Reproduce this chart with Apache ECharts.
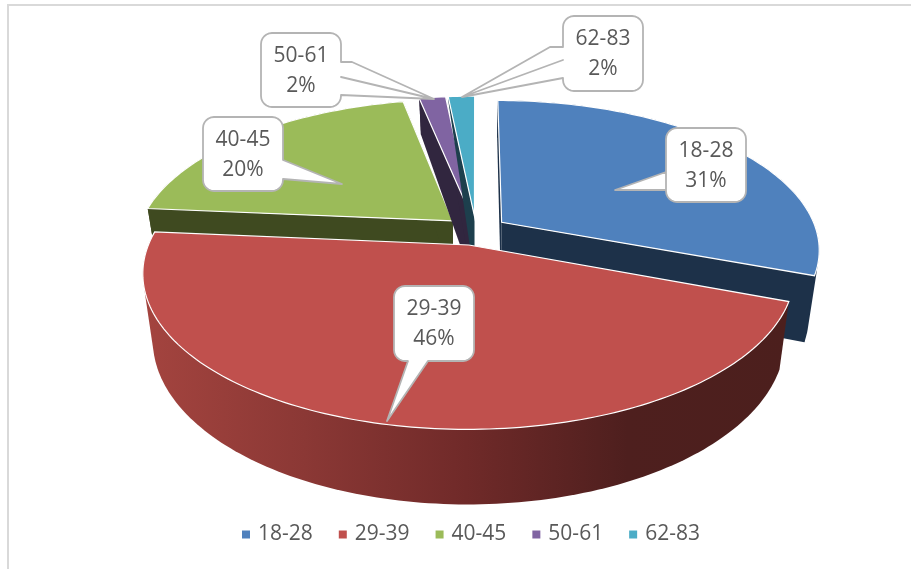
<!DOCTYPE html>
<html><head><meta charset="utf-8">
<style>html,body{margin:0;padding:0;background:#fff}#c{width:911px;height:569px}</style>
<script src="https://cdn.jsdelivr.net/npm/echarts@6/dist/echarts.min.js"></script>
</head><body><div id="c"></div>
<script>
var categories = ['18-28','29-39','40-45','50-61','62-83'];
var percents = [31,46,20,2,2];
var shares = [30.7,45.7,20.4,1.6,1.6];
var topColors = ['#4f81bd','#c0504d','#9bbb59','#8064a2','#4bacc6'];
var wallColors = ['#1d3149','#7a2e2c','#3f4a20','#31263f','#1d3f4d'];
var redWallStops = [[0,'#a4443f'],[0.25,'#8b3835'],[0.5,'#702a29'],[0.75,'#4e1f1e'],[1,'#4c1f1d']];
var sliceOrder = [0,2,3,4,1];
var faceRim = [1,1,1,1,0.12];
var calloutBoxes = [
 {x:666,y:128,w:80,h:74,edge:[[666,172],[615,190],[666,190]]},
 {x:394,y:286,w:80,h:75,edge:[[428,361],[387,421],[408,361]]},
 {x:203,y:117,w:80,h:74,edge:[[283,160],[342,184],[283,179]]},
 {x:261,y:33,w:80,h:74,edge:[[341,62],[352,62],[434,99],[341,77],[434,99],[341,95]]},
 {x:563,y:16,w:80,h:75,edge:[[563,78],[462,97],[563,60],[462,97],[550,47],[563,47]]}
];
var pie = {cx:476,cy:230.5,rx:315,ry:146,persp:0.177,explode:0.1,depth:64,shrink:0.97};
var total = shares.reduce(function(a,b){return a+b;},0);
function sliceAngles(i){
  var a=0; for(var k=0;k<i;k++) a+=shares[k];
  return [a/total*Math.PI*2,(a+shares[i])/total*Math.PI*2];
}
function project(th,r,ox,ov,bottom){
  var u=ox+r*Math.sin(th), v=ov-r*Math.cos(th), s=1/(1-pie.persp*v), k=bottom?pie.shrink:1;
  var d=pie.depth*s*(v<0?1+0.3*v:1-0.05*v);
  return [pie.cx+pie.rx*u*s*k, pie.cy+pie.ry*v*s+(bottom?d:0)];
}
function arcPoints(a0,a1,ox,ov,bottom){
  var pts=[],n=Math.max(4,Math.ceil((a1-a0)/0.02));
  for(var j=0;j<=n;j++) pts.push(project(a0+(a1-a0)*j/n,1,ox,ov,bottom));
  return pts;
}
function hull(points){
  var p=points.slice().sort(function(a,b){return a[0]-b[0]||a[1]-b[1];});
  function cross(o,a,b){return (a[0]-o[0])*(b[1]-o[1])-(a[1]-o[1])*(b[0]-o[0]);}
  function half(list){
    var h=[];
    list.forEach(function(q){
      while(h.length>=2&&cross(h[h.length-2],h[h.length-1],q)<=0) h.pop();
      h.push(q);
    });
    h.pop();
    return h;
  }
  return half(p).concat(half(p.slice().reverse()));
}
function renderSlice(i){
  var an=sliceAngles(i),a0=an[0],a1=an[1],mid=(a0+a1)/2;
  var ox=pie.explode*Math.sin(mid),ov=-pie.explode*Math.cos(mid);
  var top=arcPoints(a0,a1,ox,ov,false),bot=arcPoints(a0,a1,ox,ov,true);
  var apexT=project(0,0,ox,ov,false),apexB=project(0,0,ox,ov,true);
  var faces=[];
  function poly(points,fill,stroke){
    var st={fill:fill,lineWidth:stroke?1.2:0};
    if(stroke) st.stroke=stroke;
    faces.push({type:'polygon',shape:{points:points},style:st});
  }
  var rim=faceRim[i];
  var wallFill=wallColors[i];
  if(i===1){
    wallFill={type:'linear',x:0,y:0,x2:1,y2:0,
      colorStops:redWallStops.map(function(s){return {offset:s[0],color:s[1]};})};
  }
  if(rim===1) poly(hull(top.concat(bot)),wallFill);
  var rimBottom=[top[0][0]+(bot[0][0]-top[0][0])*rim,top[0][1]+(bot[0][1]-top[0][1])*rim];
  if(i!==1){
    poly([apexT,top[0],rimBottom,apexB],wallColors[i]);
    poly([apexT,top[top.length-1],bot[bot.length-1],apexB],wallColors[i]);
  }
  poly([apexT].concat(top),topColors[i],'#ffffff');
  return {type:'group',children:faces};
}
function roundBox(b,edge){
  var r=11,pts=[];
  function corner(cx,cy,s){for(var j=0;j<=6;j++){var t=s+j/6*Math.PI/2;pts.push([cx+r*Math.cos(t),cy+r*Math.sin(t)]);}}
  var onRight=edge[0][0]===b.x+b.w,onBottom=edge[0][1]===b.y+b.h,onLeft=edge[0][0]===b.x;
  corner(b.x+r,b.y+r,Math.PI);
  corner(b.x+b.w-r,b.y+r,-Math.PI/2);
  if(onRight&&!onBottom) pts=pts.concat(edge);
  corner(b.x+b.w-r,b.y+b.h-r,0);
  if(onBottom) pts=pts.concat(edge);
  corner(b.x+r,b.y+b.h-r,Math.PI/2);
  if(onLeft&&!onBottom) pts=pts.concat(edge);
  return pts;
}
function renderLabel(i){
  var b=calloutBoxes[i];
  return {type:'group',children:[
    {type:'polygon',shape:{points:roundBox(b,b.edge)},style:{fill:'#fff',stroke:'#b4b4b4',lineWidth:1.8,lineJoin:'round'}},
    {type:'text',style:{x:b.x+b.w/2,y:b.y+b.h/2+1,text:categories[i]+'\n'+percents[i]+'%',
      fill:'#595959',font:'21px "Open Sans"',lineHeight:30,align:'center',verticalAlign:'middle'}}
  ]};
}
var series=categories.map(function(name,i){
  return {type:'custom',name:name,coordinateSystem:'none',silent:true,animation:false,
    z:2+sliceOrder.indexOf(i),itemStyle:{color:topColors[i]},data:[[percents[i]]],
    renderItem:function(){return renderSlice(i);}};
});
series.push({type:'custom',name:'labels',coordinateSystem:'none',silent:true,animation:false,z:20,
  data:percents.map(function(v){return [v];}),
  renderItem:function(p){return renderLabel(p.dataIndex);}});
var chart=echarts.init(document.getElementById('c'),null,{renderer:'canvas'});
chart.setOption({
  animation:false,backgroundColor:'#fff',
  graphic:[{type:'polyline',shape:{points:[[8,569],[8,5],[911,5]]},style:{fill:null,stroke:'#d9d9d9',lineWidth:2},z:0}],
  legend:{data:categories,left:237,top:519,itemWidth:8,itemHeight:8,itemGap:26,icon:'rect',selectedMode:false,
    textStyle:{color:'#595959',fontSize:21,fontFamily:'"Open Sans"',padding:[0,0,0,3]},itemStyle:{borderWidth:0}},
  series:series
});
</script></body></html>
